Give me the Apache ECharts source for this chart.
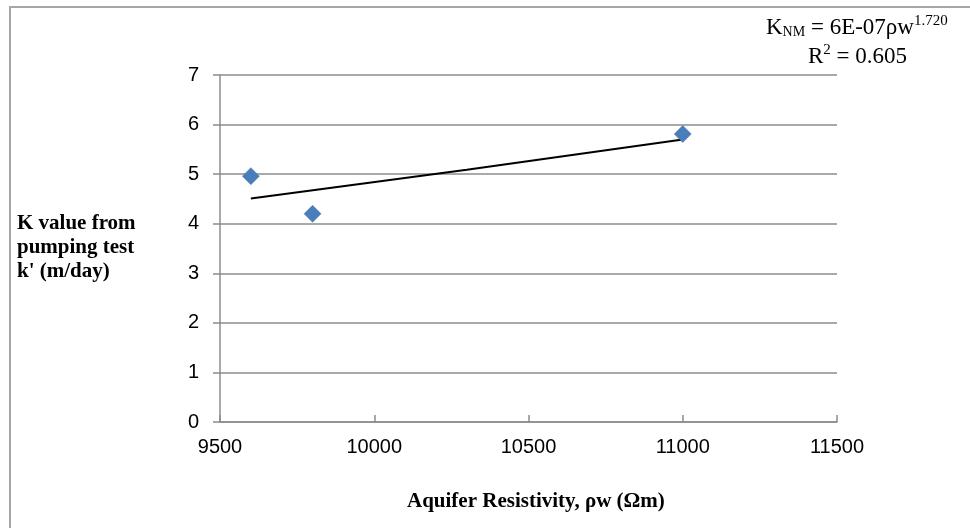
<!DOCTYPE html>
<html>
<head>
<meta charset="utf-8">
<title>K value vs aquifer resistivity</title>
<script src="https://cdn.jsdelivr.net/npm/echarts@6/dist/echarts.min.js"></script>
<style>
  html, body { margin: 0; padding: 0; background: #fff; }
  #chart { width: 970px; height: 528px; }
</style>
</head>
<body>
<div id="chart"></div>
<script>
// measured points (resistivity, K)
var resistivity = [9600, 9800, 11000];
var kValues = [4.96, 4.2, 5.81];

// power trendline
var trendX = [9600, 10300, 11000];
var trendY = [4.51, 5.09, 5.70];

var xTicks = [9500, 10000, 10500, 11000, 11500];
var yTicks = [0, 1, 2, 3, 4, 5, 6, 7];

var points = resistivity.map(function (x, i) { return [x, kValues[i]]; });
var trend = trendX.map(function (x, i) { return [x, trendY[i]]; });

var myChart = echarts.init(document.getElementById('chart'));

var serif = '"Liberation Serif", "DejaVu Serif", serif';
var sans = '"Liberation Sans", Arial, sans-serif';

myChart.setOption({
    animation: false,
    backgroundColor: '#fff',
    grid: {
        left: 220,
        right: 133,
        top: 75,
        bottom: 106
    },
    xAxis: {
        type: 'value',
        min: xTicks[0],
        max: xTicks[xTicks.length - 1],
        interval: 500,
        axisLine: { show: true, lineStyle: { color: '#8c8c8c', width: 1.5 } },
        axisTick: { show: true, inside: true, length: 7, lineStyle: { color: '#8c8c8c', width: 1.5 } },
        splitLine: { show: false },
        axisLabel: {
            color: '#000',
            fontFamily: sans,
            fontSize: 20,
            margin: 15,
            formatter: function (v) { return String(v); }
        }
    },
    yAxis: {
        type: 'value',
        min: yTicks[0],
        max: yTicks[yTicks.length - 1],
        interval: 1,
        axisLine: { show: true, lineStyle: { color: '#8c8c8c', width: 1.5 } },
        axisTick: { show: true, length: 7, lineStyle: { color: '#8c8c8c', width: 1.5 } },
        splitLine: { show: true, lineStyle: { color: '#8c8c8c', width: 1.5 } },
        axisLabel: {
            color: '#000',
            fontFamily: sans,
            fontSize: 20,
            margin: 21
        }
    },
    series: [
        {
            name: 'trend',
            type: 'line',
            data: trend,
            smooth: true,
            showSymbol: false,
            lineStyle: { color: '#000', width: 2 },
            z: 2
        },
        {
            name: 'K',
            type: 'scatter',
            data: points,
            symbol: 'diamond',
            symbolSize: [17, 17],
            itemStyle: { color: '#4a7ebb', borderColor: '#4171a9', borderWidth: 0.5, opacity: 1 },
            z: 3
        }
    ],
    graphic: [
        {
            type: 'rect',
            shape: { x: 10, y: 7, width: 1000, height: 600 },
            style: { fill: 'none', stroke: '#a6a6a6', lineWidth: 2 },
            silent: true
        },
        {
            type: 'text',
            left: 17,
            top: 212,
            style: {
                text: "K value from\npumping test\nk' (m/day)",
                font: 'bold 21px ' + serif,
                fill: '#000',
                lineHeight: 24
            }
        },
        {
            type: 'text',
            left: 407,
            top: 491,
            style: {
                text: 'Aquifer Resistivity, ρw (Ωm)',
                font: 'bold 21px ' + serif,
                fill: '#000'
            }
        },
        {
            type: 'text',
            left: 766,
            top: 14,
            style: {
                text: '{b|K}{s|NM}{b| = 6E-07ρw}{p|1.720}',
                rich: {
                    b: { fontFamily: serif, fontSize: 23, fill: '#000', verticalAlign: 'bottom' },
                    s: { fontFamily: serif, fontSize: 14, fill: '#000', padding: [9, 0, 0, 0], verticalAlign: 'bottom' },
                    p: { fontFamily: serif, fontSize: 15, fill: '#000', padding: [0, 0, 10, 0], verticalAlign: 'bottom' }
                }
            }
        },
        {
            type: 'text',
            left: 808,
            top: 43,
            style: {
                text: '{b|R}{p|2}{b| = 0.605}',
                rich: {
                    b: { fontFamily: serif, fontSize: 23, fill: '#000', verticalAlign: 'bottom' },
                    p: { fontFamily: serif, fontSize: 15, fill: '#000', padding: [0, 0, 10, 0], verticalAlign: 'bottom' }
                }
            }
        }
    ]
});
</script>
</body>
</html>
